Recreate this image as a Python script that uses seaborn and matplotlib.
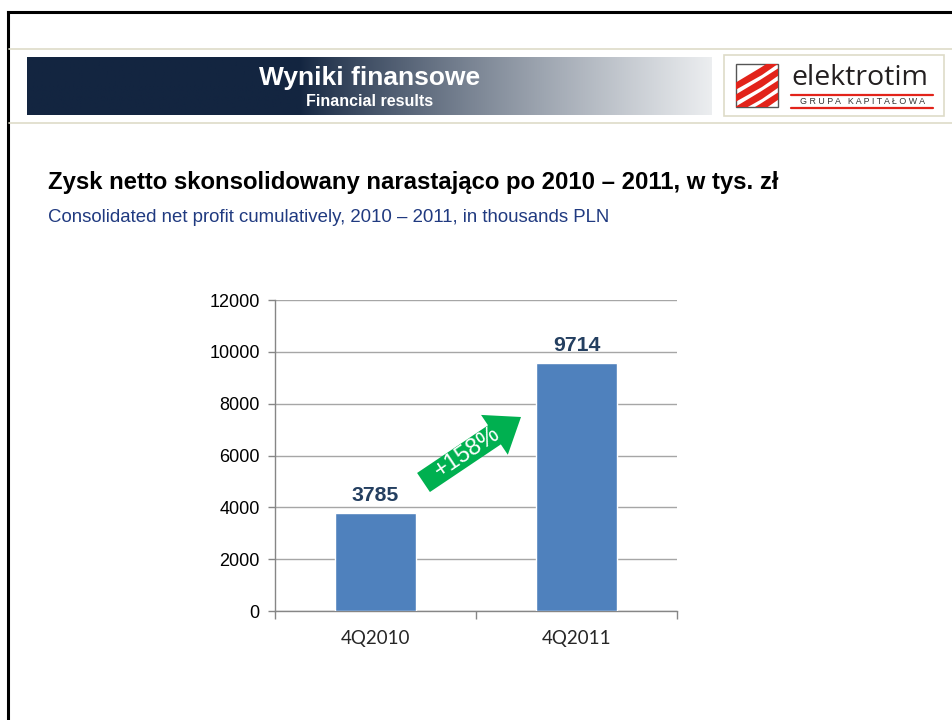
import numpy as np
import pandas as pd
import matplotlib
matplotlib.use("Agg")
import matplotlib.pyplot as plt
import seaborn as sns
from matplotlib.patches import Rectangle, Polygon, FancyArrow

# ---- data ----
categories = ["4Q2010", "4Q2011"]
bar_values = [3785, 9570]          # bar heights as drawn
bar_labels = ["3785", "9714"]      # labels shown above bars
y_ticks = [0, 2000, 4000, 6000, 8000, 10000, 12000]
growth_label = "+158%"
header_title = "Wyniki finansowe"
header_sub = "Financial results"
chart_title = "Zysk netto skonsolidowany narastająco po 2010 – 2011, w tys. zł"
chart_sub = "Consolidated net profit cumulatively, 2010 – 2011, in thousands PLN"

sns.set_theme(style="white")
plt.rcParams["font.family"] = ["Liberation Sans", "DejaVu Sans"]

W, H = 952, 720
fig = plt.figure(figsize=(W / 100, H / 100), dpi=100)
fig.patch.set_facecolor("white")

def fax(l, t, w, h):
    return [l / W, 1 - (t + h) / H, w / W, h / H]

# ---- main chart ----
ax = fig.add_axes(fax(275, 300, 402, 311))
df = pd.DataFrame({"cat": categories, "val": bar_values})
sns.barplot(data=df, x="cat", y="val", color="#4F81BD", saturation=1,
            width=0.4, ax=ax, zorder=3)
ax.set_xlim(-0.5, 1.5)
ax.set_ylim(0, 12000)
ax.set_yticks(y_ticks)
ax.set_yticklabels([str(t) for t in y_ticks], fontsize=13, color="#000000")
ax.set_xlabel("")
ax.set_ylabel("")
ax.yaxis.grid(True, color="#A6A6A6", lw=1, zorder=0)
ax.set_axisbelow(True)
for s in ["top", "right"]:
    ax.spines[s].set_visible(False)
for s in ["left", "bottom"]:
    ax.spines[s].set_color("#868686")
    ax.spines[s].set_linewidth(1)
ax.tick_params(axis="y", left=True, length=5, color="#868686", width=1, pad=6)
ax.set_xticks(range(len(categories)))
ax.set_xticklabels(categories, fontsize=13.5, family=["Lato", "DejaVu Sans"])
ax.tick_params(axis="x", which="major", length=0, pad=14)
ax.set_xticks([-0.5, 0.5, 1.5], minor=True)
ax.tick_params(axis="x", which="minor", bottom=True, length=6, color="#868686", width=1)
ax.patch.set_alpha(0)

for i, (v, lab) in enumerate(zip(bar_values, bar_labels)):
    ax.annotate(lab, xy=(i, v), xytext=(0, 12.5), textcoords="offset points",
                ha="center", va="center", fontsize=15.3, fontweight="bold",
                color="#243F60")

# ---- overlay for slide decorations ----
ov = fig.add_axes([0, 0, 1, 1], zorder=5)
ov.set_xlim(0, W)
ov.set_ylim(H, 0)
ov.axis("off")
ov.patch.set_alpha(0)

# border
ov.plot([8, W + 5], [12, 12], color="black", lw=2.2, solid_capstyle="projecting")
ov.plot([8, 8], [12, H + 5], color="black", lw=2.2, solid_capstyle="projecting")

# beige header lines
ov.plot([9, W], [49, 49], color="#DEDCC8", lw=1.2)
ov.plot([9, W], [123, 123], color="#DEDCC8", lw=1.2)

# gradient bar
xs = np.linspace(0, 1, 600)
dark = np.array([0x13, 0x25, 0x40]) / 255
light = np.array([0xEC, 0xEE, 0xF0]) / 255
xpix = 27 + xs * (712 - 27)
t = np.clip((xpix - 300) / (712 - 300), 0, 1)
t = t ** 0.85
grad = dark[None, :] * (1 - t[:, None]) + light[None, :] * t[:, None]
ov.imshow(grad[None, :, :], extent=[27, 712, 115, 57], aspect="auto", zorder=1)
ov.text(370, 78, header_title, ha="center", va="center", color="white",
        fontsize=19, fontweight="bold", zorder=2)
ov.text(370, 102, header_sub, ha="center", va="center", color="white",
        fontsize=11.5, fontweight="bold", zorder=2)

# logo
ov.add_patch(Rectangle((724, 55), 220, 61, fc="white", ec="#DEDCC8", lw=1.2, zorder=1))
ov.add_patch(Rectangle((736, 64), 42, 43, fc="white", ec="#555555", lw=1, zorder=2))
sq = Rectangle((736, 64), 42, 43, transform=ov.transData)
for k in range(4):
    y0 = 78 + k * 12
    poly = Polygon([(730, y0 + 8), (760, y0 - 10), (785, y0 - 26), (785, y0 - 19),
                    (762, y0 - 3), (730, y0 + 15)],
                   closed=True, fc="#E2231A", ec="none", zorder=3)
    ov.add_patch(poly)
    poly.set_clip_path(sq)
ov.text(791, 78, "elektrotim", ha="left", va="center", fontsize=20.5,
        color="#231F20", family=["Open Sans", "DejaVu Sans"], zorder=3)
ov.plot([791, 933], [95, 95], color="#E2231A", lw=1.6, zorder=3)
ov.text(862, 101.5, "G R U P A   K A P I T A Ł O W A", ha="center", va="center",
        fontsize=6.4, color="#333333", zorder=3)
ov.plot([791, 933], [108, 108], color="#E2231A", lw=1.6, zorder=3)

# titles
ov.text(48, 183, chart_title, ha="left", va="center", fontsize=17.2,
        fontweight="bold", color="black")
ov.text(48, 218, chart_sub, ha="left", va="center", fontsize=13.4,
        color="#203A80")

# growth arrow
tail = np.array([423.5, 482.5])
tip = np.array([521, 417])
d = tip - tail
arr = FancyArrow(tail[0], tail[1], d[0], d[1], width=23, head_width=48,
                 head_length=32, length_includes_head=True,
                 fc="#00B050", ec="none", zorder=4)
ov.add_patch(arr)
ang = np.degrees(np.arctan2(-d[1], d[0]))
ov.text(467, 452, growth_label, ha="center", va="center", rotation=ang,
        rotation_mode="anchor", fontsize=17, color="white", zorder=5)

fig.savefig("out.png", dpi=100)
